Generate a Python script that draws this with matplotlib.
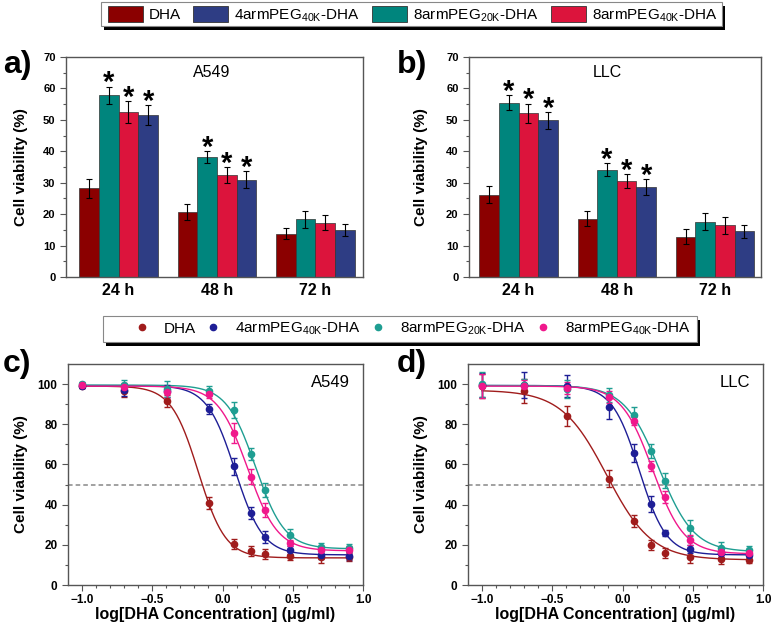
import numpy as np
import matplotlib.pyplot as plt
from matplotlib.patches import Patch, Rectangle
from matplotlib.lines import Line2D

plt.rcParams['font.family'] = ['Liberation Sans', 'DejaVu Sans']
plt.rcParams['mathtext.default'] = 'regular'

# ---- data ----
groups = ['24 h', '48 h', '72 h']
bar_names = ['DHA', '8armPEG20K-DHA', '8armPEG40K-DHA', '4armPEG40K-DHA']  # bar order in each group

# A549 viability (%) per bar series, 24/48/72 h
a_dha = [28.2, 20.6, 13.8]
a_8a20 = [57.8, 38.2, 18.3]
a_8a40 = [52.5, 32.4, 17.2]
a_4a40 = [51.5, 30.9, 15.0]
a_dha_err = [3.0, 2.5, 1.8]
a_8a20_err = [2.8, 1.8, 2.6]
a_8a40_err = [3.5, 2.5, 2.4]
a_4a40_err = [3.2, 2.7, 2.0]

# LLC
b_dha = [26.2, 18.6, 12.8]
b_8a20 = [55.4, 34.2, 17.6]
b_8a40 = [52.1, 30.6, 16.4]
b_4a40 = [49.8, 28.6, 14.5]
b_dha_err = [2.7, 2.3, 2.4]
b_8a20_err = [2.4, 2.1, 2.7]
b_8a40_err = [3.1, 2.3, 2.6]
b_4a40_err = [2.8, 2.6, 2.0]

star_groups = [0, 1]  # groups with significance marks on the PEG bars

# dose response: log[DHA] (ug/ml)
log_conc = [-1.0, -0.699, -0.398, -0.097, 0.079, 0.204, 0.301, 0.477, 0.699, 0.903]

c_dha = [99.0, 96.5, 91.5, 41.0, 20.3, 17.0, 15.5, 14.5, 14.0, 14.0]
c_4a40 = [99.2, 97.0, 96.5, 87.7, 59.0, 35.8, 24.0, 17.5, 15.0, 14.5]
c_8a20 = [99.8, 99.5, 97.5, 96.5, 87.0, 65.0, 47.2, 25.0, 19.0, 18.5]
c_8a40 = [99.5, 98.5, 96.0, 95.0, 75.8, 54.0, 37.3, 21.0, 17.5, 17.5]
c_dha_err = [1.0, 3.0, 3.0, 3.0, 2.5, 2.5, 2.5, 2.0, 3.0, 2.0]
c_4a40_err = [1.0, 3.0, 3.0, 2.5, 4.0, 3.0, 3.0, 2.0, 2.0, 2.0]
c_8a20_err = [1.0, 2.5, 4.0, 2.5, 4.0, 3.0, 3.5, 3.0, 2.0, 2.0]
c_8a40_err = [1.0, 2.0, 3.0, 2.0, 5.0, 3.5, 3.5, 1.5, 2.0, 2.0]

d_dha = [99.0, 96.5, 84.0, 53.0, 32.0, 20.0, 15.8, 14.0, 12.8, 12.5]
d_4a40 = [99.5, 99.5, 99.0, 88.5, 65.5, 40.3, 26.0, 18.0, 16.0, 15.0]
d_8a20 = [99.8, 99.5, 97.5, 94.5, 84.5, 66.8, 52.0, 28.3, 18.5, 17.5]
d_8a40 = [99.0, 99.0, 98.0, 93.8, 81.5, 59.0, 44.0, 22.3, 16.5, 16.0]
d_dha_err = [6.0, 6.0, 5.0, 4.0, 3.0, 2.5, 2.5, 3.0, 2.5, 1.5]
d_4a40_err = [6.0, 6.5, 5.5, 6.0, 4.5, 4.0, 1.5, 2.0, 2.0, 2.0]
d_8a20_err = [6.0, 3.0, 4.5, 3.5, 4.0, 3.5, 3.5, 4.0, 3.0, 2.0]
d_8a40_err = [6.0, 3.0, 3.0, 3.0, 2.0, 2.5, 3.0, 2.5, 2.0, 1.5]

# fitted dose-response parameters: top, bottom, logIC50, hill slope
c_fit = {'dha': (99.0, 13.5, -0.172, 4.5), '4a40': (99.3, 15.0, 0.089, 4.36),
         '8a20': (99.5, 18.0, 0.235, 4.2), '8a40': (99.0, 17.0, 0.179, 4.07)}
d_fit = {'dha': (97.0, 12.5, -0.113, 2.7), '4a40': (99.3, 15.0, 0.119, 4.5),
         '8a20': (99.3, 16.5, 0.26, 3.5), '8a40': (99.0, 15.5, 0.215, 3.9)}

bar_colors = ['#8B0000', '#00857D', '#DC143C', '#2E3D84']
curve_colors = {'dha': '#A01C1C', '4a40': '#1E1E96', '8a20': '#1F9E92', '8a40': '#F0188C'}

label_dha = 'DHA'
label_4a40 = '4armPEG$_{40K}$-DHA'
label_8a20 = '8armPEG$_{20K}$-DHA'
label_8a40 = '8armPEG$_{40K}$-DHA'

W, H = 775, 627
fig = plt.figure(figsize=(W / 100, H / 100), dpi=100)


def fax(l, t, r, b):
    return fig.add_axes([l / W, 1 - b / H, (r - l) / W, (b - t) / H])


def style(ax):
    for s in ax.spines.values():
        s.set_color('#555555')
        s.set_linewidth(1.0)
    ax.tick_params(which='both', direction='out', color='#555555', width=0.8)
    ax.tick_params(which='major', length=4, labelsize=8)
    ax.tick_params(which='minor', length=2)
    for lab in ax.get_xticklabels() + ax.get_yticklabels():
        lab.set_fontweight('bold')


def bar_panel(ax, vals, errs, title, xlim, title_x):
    x = np.arange(len(groups))
    w = 0.2
    for i, (v, e) in enumerate(zip(vals, errs)):
        pos = x + (i - 1.5) * w
        ax.bar(pos, v, w, color=bar_colors[i], edgecolor='#333333', linewidth=0.5, zorder=2)
        ax.errorbar(pos, v, yerr=e, fmt='none', ecolor='black', elinewidth=0.8,
                    capsize=2.5, capthick=0.8, zorder=3)
        if i > 0:
            for g in star_groups:
                ax.annotate('*', (pos[g], v[g] + e[g]), xytext=(0, -3.5), textcoords='offset points',
                            ha='center', va='baseline', fontsize=21, fontweight='bold')
    ax.set_xlim(*xlim)
    ax.set_ylim(0, 70)
    ax.set_xticks(x)
    ax.set_xticklabels(groups)
    ax.set_yticks(np.arange(0, 71, 10))
    ax.set_yticks(np.arange(0, 71, 5), minor=True)
    style(ax)
    ax.tick_params(axis='x', which='both', length=0, labelsize=11.5, pad=4)
    ax.set_ylabel('Cell viability (%)', fontsize=11, fontweight='bold')
    ax.text(title_x, 0.93, title, transform=ax.transAxes, ha='center', va='center', fontsize=11.5)


def curve_panel(ax, series, fits, title):
    xs = np.linspace(-1.0, 0.903, 300)
    for key, y, e in series:
        top, bot, x0, h = fits[key]
        col = curve_colors[key]
        ax.plot(xs, bot + (top - bot) / (1 + 10 ** ((xs - x0) * h)), color=col, lw=1.0, zorder=2)
        ax.errorbar(log_conc, y, yerr=e, fmt='o', color=col, ms=4.5, mec=col, elinewidth=1.0,
                    capsize=2.5, capthick=1.0, zorder=3)
    ax.axhline(50, color='#888888', ls=(0, (3, 2)), lw=1.1, zorder=1)
    ax.set_xlim(-1.1, 1.0)
    ax.set_ylim(0, 110)
    ax.set_xticks(np.arange(-1.0, 1.01, 0.5))
    ax.set_xticks(np.arange(-1.0, 1.01, 0.1), minor=True)
    ax.set_yticks(np.arange(0, 101, 20))
    ax.set_yticks(np.arange(0, 101, 10), minor=True)
    style(ax)
    ax.tick_params(which='major', labelsize=8.5)
    ax.tick_params(axis='x', which='major', pad=2.5)
    ax.set_ylabel('Cell viability (%)', fontsize=11, fontweight='bold')
    ax.set_xlabel('log[DHA Concentration] (\u03bcg/ml)', fontsize=11.5, fontweight='bold')
    ax.text(0.955, 0.915, title, transform=ax.transAxes, ha='right', va='center', fontsize=12)


# ---- panels ----
ax_a = fax(66, 57, 363, 277)
bar_panel(ax_a, [a_dha, a_8a20, a_8a40, a_4a40], [a_dha_err, a_8a20_err, a_8a40_err, a_4a40_err],
          'A549', (-0.535, 2.485), 0.49)
ax_a.yaxis.set_label_coords(-38 / 297, 0.5)

ax_b = fax(469, 57, 761, 277)
bar_panel(ax_b, [b_dha, b_8a20, b_8a40, b_4a40], [b_dha_err, b_8a20_err, b_8a40_err, b_4a40_err],
          'LLC', (-0.505, 2.468), 0.473)
ax_b.yaxis.set_label_coords(-41 / 292, 0.5)

ax_c = fax(68, 364, 363, 585)
curve_panel(ax_c, [('dha', c_dha, c_dha_err), ('4a40', c_4a40, c_4a40_err),
                   ('8a20', c_8a20, c_8a20_err), ('8a40', c_8a40, c_8a40_err)], c_fit, 'A549')
ax_c.yaxis.set_label_coords(-40 / 295, 0.5)
ax_c.xaxis.set_label_coords(0.5, -0.098)

ax_d = fax(468, 364, 763, 585)
curve_panel(ax_d, [('dha', d_dha, d_dha_err), ('4a40', d_4a40, d_4a40_err),
                   ('8a20', d_8a20, d_8a20_err), ('8a40', d_8a40, d_8a40_err)], d_fit, 'LLC')
ax_d.yaxis.set_label_coords(-40 / 295, 0.5)
ax_d.xaxis.set_label_coords(0.5, -0.098)

# panel letters
for lab, x, y in [('a)', 3, 73), ('b)', 397, 73), ('c)', 3, 372), ('d)', 397, 372)]:
    fig.text(x / W, 1 - y / H, lab, fontsize=23, fontweight='bold', va='baseline', ha='left')


# ---- legends with Origin style drop shadow ----
def legend_box(l, t, r, b):
    fig.patches.append(Rectangle((l / W + 3 / W, 1 - (b + 4) / H), (r - l) / W, (b - t) / H,
                                 transform=fig.transFigure, facecolor='black', edgecolor='none', zorder=5))
    fig.patches.append(Rectangle((l / W, 1 - b / H), (r - l) / W, (b - t) / H,
                                 transform=fig.transFigure, facecolor='white', edgecolor='#888888',
                                 linewidth=0.8, zorder=6))


legend_box(101, 2, 722, 26)
bar_handles = [Patch(facecolor=bar_colors[0], edgecolor='#333333', lw=0.6),
               Patch(facecolor=bar_colors[3], edgecolor='#333333', lw=0.6),
               Patch(facecolor=bar_colors[1], edgecolor='#333333', lw=0.6),
               Patch(facecolor=bar_colors[2], edgecolor='#333333', lw=0.6)]
leg1 = fig.legend(bar_handles, [label_dha, label_4a40, label_8a20, label_8a40], ncol=4,
                  loc='center left', bbox_to_anchor=(108 / W, 1 - 15 / H), frameon=False,
                  fontsize=11, handlelength=2.29, handleheight=1.18, handletextpad=0.39,
                  columnspacing=0.8, borderpad=0, borderaxespad=0)
leg1.set_zorder(7)

legend_box(103, 316, 697, 342)
pt_handles = [Line2D([], [], ls='none', marker='o', ms=4.5, color=curve_colors[k])
              for k in ['dha', '4a40', '8a20', '8a40']]
leg2 = fig.legend(pt_handles, [label_dha, label_4a40, label_8a20, label_8a40], ncol=4,
                  loc='center left', bbox_to_anchor=(132 / W, 1 - 329 / H), frameon=False,
                  fontsize=11, handlelength=1.31, handletextpad=0.8, columnspacing=0.45,
                  borderpad=0, borderaxespad=0)
leg2.set_zorder(7)

fig.savefig('out.png', dpi=100)
